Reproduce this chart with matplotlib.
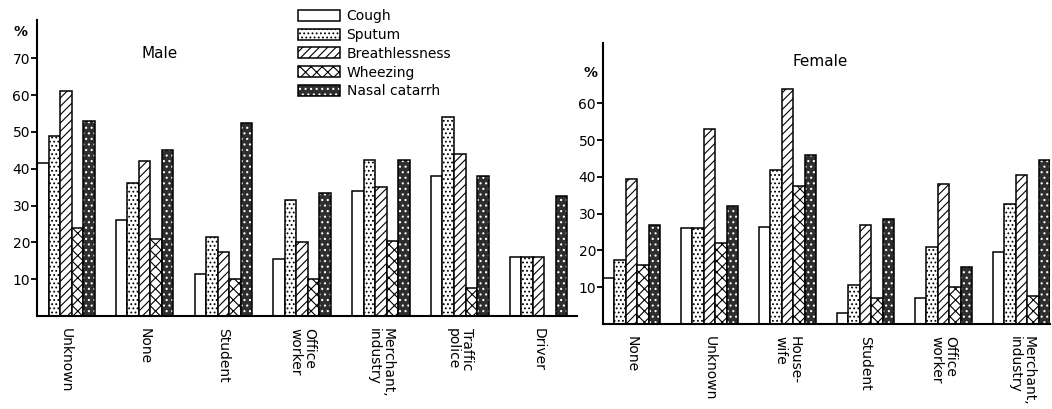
import matplotlib
matplotlib.use('Agg')
import matplotlib.pyplot as plt
from matplotlib.patches import Patch
from matplotlib.legend_handler import HandlerTuple
import numpy as np

# symptom prevalence (%) by occupation
symptoms = ['Cough', 'Sputum', 'Breathlessness', 'Wheezing', 'Nasal catarrh']

male_groups = ['Unknown', 'None', 'Student', 'Office\nworker',
               'Merchant,\nindustry', 'Traffic\npolice', 'Driver']
male_cough = [41.5, 26, 11.5, 15.5, 34, 38, 16]
male_sputum = [49, 36, 21.5, 31.5, 42.5, 54, 16]
male_breath = [61, 42, 17.5, 20, 35, 44, 16]
male_wheeze = [24, 21, 10, 10, 20.5, 7.5, 0]
male_nasal = [53, 45, 52.5, 33.5, 42.5, 38, 32.5]

female_groups = ['None', 'Unknown', 'House-\nwife', 'Student',
                 'Office\nworker', 'Merchant,\nindustry']
female_cough = [12.5, 26, 26.5, 3, 7, 19.5]
female_sputum = [17.5, 26, 42, 10.5, 21, 32.5]
female_breath = [39.5, 53, 64, 27, 38, 40.5]
female_wheeze = [16, 22, 37.5, 7, 10, 7.5]
female_nasal = [27, 32, 46, 28.5, 15.5, 44.5]

plt.rcParams['font.family'] = 'DejaVu Sans'
plt.rcParams['hatch.linewidth'] = 0.8

W = 0.146
DARK = '#2e2e2e'
hatches = [None, '....', '////', 'xxx', None]


def nasal_bar(ax, pos, vals):
    # dark mottled fill: white speckles under a black outline
    ax.bar(pos, vals, W, color=DARK, linewidth=0)
    ax.bar(pos, vals, W, fill=False, edgecolor='white', hatch='...', linewidth=0)
    ax.bar(pos, vals, W, fill=False, edgecolor='black', linewidth=1.1)


def draw_panel(ax, groups, series, ymax, yticks, right):
    x = np.arange(len(groups))
    for i, vals in enumerate(series):
        pos = x + (i - 2) * W
        if i == 4:
            nasal_bar(ax, pos, vals)
        else:
            ax.bar(pos, vals, W, facecolor='white', hatch=hatches[i],
                   edgecolor='black', linewidth=1.1)
    ax.set_xlim(-2.5 * W, right)
    ax.set_ylim(0, ymax)
    ax.set_yticks(yticks)
    ax.set_xticks(x)
    ax.set_xticklabels(groups, rotation=270, ha='center', va='top',
                       multialignment='left', fontsize=10, linespacing=1.0)
    ax.tick_params(axis='x', length=0, pad=9)
    ax.tick_params(axis='y', direction='out', length=4, width=1.3,
                   labelsize=10, pad=1)
    for s in ['top', 'right']:
        ax.spines[s].set_visible(False)
    for s in ['left', 'bottom']:
        ax.spines[s].set_linewidth(1.5)


fig = plt.figure(figsize=(10.52, 4.09), dpi=100)

ax_m = fig.add_axes([37 / 1052, 93 / 409, 540 / 1052, 296 / 409])
draw_panel(ax_m, male_groups,
           [male_cough, male_sputum, male_breath, male_wheeze, male_nasal],
           80.4, [10, 20, 30, 40, 50, 60, 70], 6.488)

ax_f = fig.add_axes([603 / 1052, 85 / 409, 447 / 1052, 281 / 409])
draw_panel(ax_f, female_groups,
           [female_cough, female_sputum, female_breath, female_wheeze, female_nasal],
           76.4, [10, 20, 30, 40, 50, 60], 5.366)

fig.text(20 / 1052, 1 - 32 / 409, '%', fontsize=10, fontweight='bold',
         ha='center', va='center')
fig.text(590 / 1052, 1 - 73 / 409, '%', fontsize=10, fontweight='bold',
         ha='center', va='center')
fig.text(160 / 1052, 1 - 53 / 409, 'Male', fontsize=11, ha='center', va='center')
fig.text(820 / 1052, 1 - 62 / 409, 'Female', fontsize=11, ha='center', va='center')

# legend handles mimic the bar fills
handles = []
for i in range(5):
    if i == 4:
        handles.append((Patch(facecolor=DARK, linewidth=0),
                        Patch(fill=False, edgecolor='white', hatch='...', linewidth=0),
                        Patch(fill=False, edgecolor='black', linewidth=1.1)))
    else:
        handles.append(Patch(facecolor='white', hatch=hatches[i],
                             edgecolor='black', linewidth=1.1))

fig.legend(handles, symptoms, loc='upper left',
           bbox_to_anchor=(298 / 1052, 1 - 9 / 409), frameon=False,
           fontsize=10, handlelength=3.0, handleheight=0.85,
           handletextpad=0.5, labelspacing=0.35, borderpad=0,
           borderaxespad=0,
           handler_map={tuple: HandlerTuple(ndivide=1, pad=0)})

fig.savefig('out.png', dpi=100)
